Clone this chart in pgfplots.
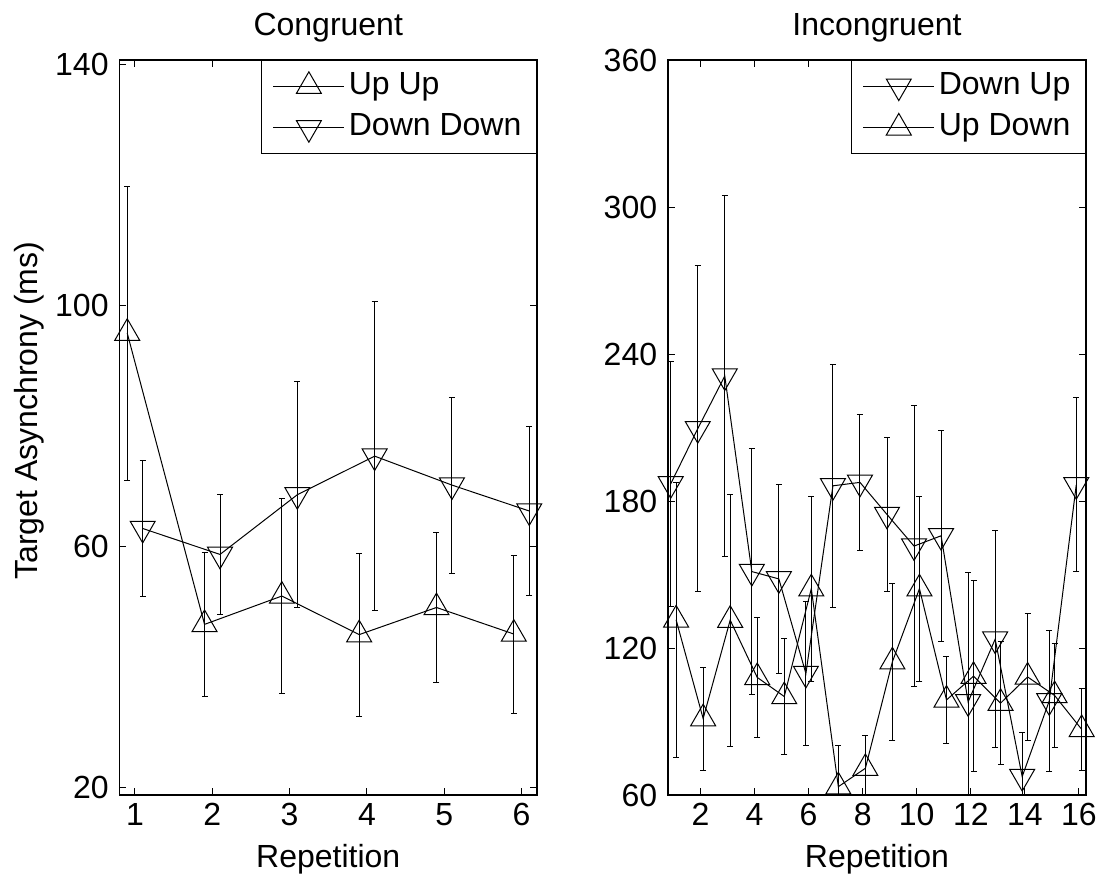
\documentclass[border=0pt]{standalone}
\usepackage{fontspec}
\setmainfont{Liberation Sans}
\usepackage{pgfplots}
\pgfplotsset{compat=1.18}

\pgfplotsset{
  every axis title/.style={font=\fontsize{16}{19}\selectfont, at={(0.5,1.034)}, anchor=base},
  matlab/.style={
    scale only axis, height=367.5pt, anchor=south west,
    axis line style={line width=0.6pt, black},
    tick align=inside, major tick length=3.5pt,
    every tick/.style={black, line width=0.5pt},
    /pgf/number format/assume math mode=true,
    tick label style={font=\fontsize{16}{19}\selectfont},
    xticklabel style={anchor=base, yshift=-15pt},
    yticklabel style={anchor=east, inner sep=0pt, xshift=-5.25pt},
    xlabel style={font=\fontsize{16}{19}\selectfont, at={(axis description cs:0.5,-0.0993)}, anchor=base},
    ylabel style={font=\fontsize{16}{19}\selectfont},
    legend style={at={(1,1)}, anchor=north east, draw=black, line width=0.6pt,
      font=\fontsize{16}{19}\selectfont, inner xsep=5.5pt, inner ysep=2.4pt, row sep=0pt,
      cells={anchor=west},
      nodes={inner xsep=2pt, inner ysep=2.4pt, text height=12pt, text depth=4pt}},
    legend image code/.code={\draw[#1, mark repeat=2, mark phase=2] plot coordinates {(0pt,0pt) (17.75pt,0pt) (35.5pt,0pt)};},
    error bars/y dir=both, error bars/y explicit,
    error bars/error bar style={line width=0.5pt, black},
    error bars/error mark options={rotate=90, mark size=1.5pt, line width=0.5pt, black},
  },
  upser/.style={black, line width=0.5pt, mark=triangle, mark size=7.2pt, mark options={solid, black, line width=0.5pt}},
  downser/.style={black, line width=0.5pt, mark=triangle, mark size=7.2pt, mark options={solid, black, line width=0.5pt, rotate=180}},
}

\begin{document}
\begin{tikzpicture}
\path[use as bounding box] (0,0) rectangle (549.5pt,437.5pt);

\begin{axis}[matlab,
  at={(59.75pt,40pt)}, width=208.75pt,
  xmin=0.8, xmax=6.2, ymin=18.8, ymax=140.7,
  xtick={1,2,3,4,5,6}, ytick={20,60,100,140},
  title={Congruent}, xlabel={Repetition},
  ylabel={Target Asynchrony (ms)},
  ylabel style={at={(axis description cs:-0.1954,0.523)}, anchor=base, rotate=0},
]
\addplot[upser] table[x=x, y=y, y error=e] {
x y e
0.9 95.4 24.4
1.9 47.1 12.0
2.9 51.8 16.2
3.9 45.4 13.5
4.9 49.9 12.5
5.9 45.5 13.1
};
\addlegendentry{Up Up}
\addplot[downser] table[x=x, y=y, y error=e] {
x y e
1.1 63.0 11.2
2.1 58.7 10.0
3.1 68.6 18.7
4.1 75.0 25.6
5.1 70.2 14.6
6.1 65.9 14.0
};
\addlegendentry{Down Down}
\end{axis}

\begin{axis}[matlab,
  at={(334pt,40pt)}, width=209pt,
  xmin=0.8, xmax=16.26, ymin=60, ymax=360,
  xtick={2,4,...,16}, ytick={60,120,...,360},
  title={Incongruent}, xlabel={Repetition},
]
\addplot[downser] table[x=x, y=y, y error=e] {
x y e
0.9 187.0 50.0
1.9 209.5 66.5
2.9 231.0 73.7
3.9 151.2 50.3
4.9 148.2 38.7
5.9 109.6 29.3
6.9 186.2 49.7
7.9 187.6 27.7
8.9 174.5 31.5
9.9 161.6 57.2
10.9 165.8 43.0
11.9 98.0 52.7
12.9 123.6 44.3
13.9 67.5 18.0
14.9 98.4 28.7
15.9 186.6 35.5
};
\addlegendentry{Down Up}
\addplot[upser] table[x=x, y=y, y error=e] {
x y e
1.1 131.5 56.0
2.1 91.2 21.0
3.1 131.4 51.4
4.1 108.0 24.5
5.1 100.2 23.6
6.1 144.2 37.7
7.1 63.4 17.0
8.1 70.9 13.3
9.1 114.4 32.1
10.1 144.2 37.7
11.1 98.8 17.8
12.1 108.5 39.0
13.1 97.5 25.2
14.1 108.2 25.8
15.1 100.6 21.2
16.1 86.8 16.7
};
\addlegendentry{Up Down}
\end{axis}
\end{tikzpicture}
\end{document}
